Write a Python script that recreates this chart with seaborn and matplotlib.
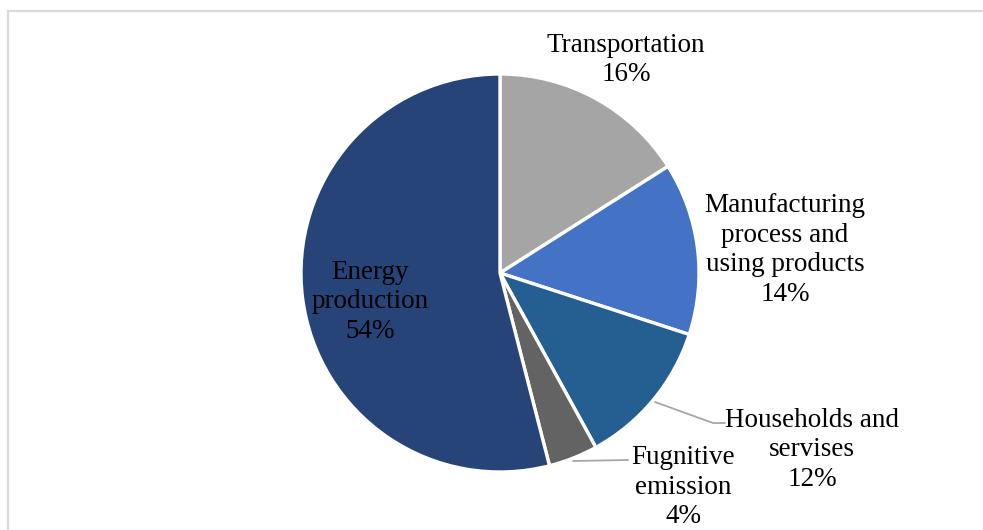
import matplotlib
matplotlib.use("Agg")
import matplotlib.pyplot as plt
import seaborn as sns
from matplotlib.patches import Rectangle

sns.set_theme(style="white")
plt.rcParams['font.family'] = ['Liberation Serif', 'DejaVu Serif']

categories = ["Transportation", "Manufacturing\nprocess and\nusing products",
              "Households and\nservises", "Fugnitive\nemission", "Energy\nproduction"]
values = [16, 14, 12, 4, 54]
colors = ["#A5A5A5", "#4472C4", "#255E91", "#636363", "#264478"]

W, H = 983, 530
fig = plt.figure(figsize=(W / 100, H / 100), dpi=100)
cx, cy, r = 500, 273, 199
ax = fig.add_axes([(cx - r) / W, (H - cy - r) / H, 2 * r / W, 2 * r / H])

wedges, _ = ax.pie(values, colors=colors, startangle=90, counterclock=False,
                   radius=1, wedgeprops=dict(edgecolor="white", linewidth=2.4))
ax.set_xlim(-1, 1)
ax.set_ylim(-1, 1)
ax.set_aspect("auto")
ax.axis("off")

def px(x, y):
    return (x - cx) / r, (cy - y) / r

label_pos = [(626, 60), (785, 250), (812, 450), (683, 487), (370, 302)]
total = sum(values)
for cat, v, (lx, ly) in zip(categories, values, label_pos):
    dx, dy = px(lx, ly)
    ax.text(dx, dy, f"{cat}\n{round(100 * v / total)}%", ha="center", va="center",
            fontsize=19.5, color="#000000", linespacing=1.25, clip_on=False)

lc = "#A6A6A6"
for pts in [[(655, 402), (713, 423), (725, 423)], [(573, 461), (628, 460)]]:
    xs, ys = zip(*[px(*p) for p in pts])
    ax.plot(xs, ys, color=lc, lw=1.3, clip_on=False)

fig.patches.append(Rectangle((7.5 / W, -0.1), 1.2, 1 - 10.5 / H + 0.1,
                             transform=fig.transFigure, fill=False,
                             edgecolor="#D9D9D9", lw=1.6))

fig.savefig("out.png", dpi=100)
